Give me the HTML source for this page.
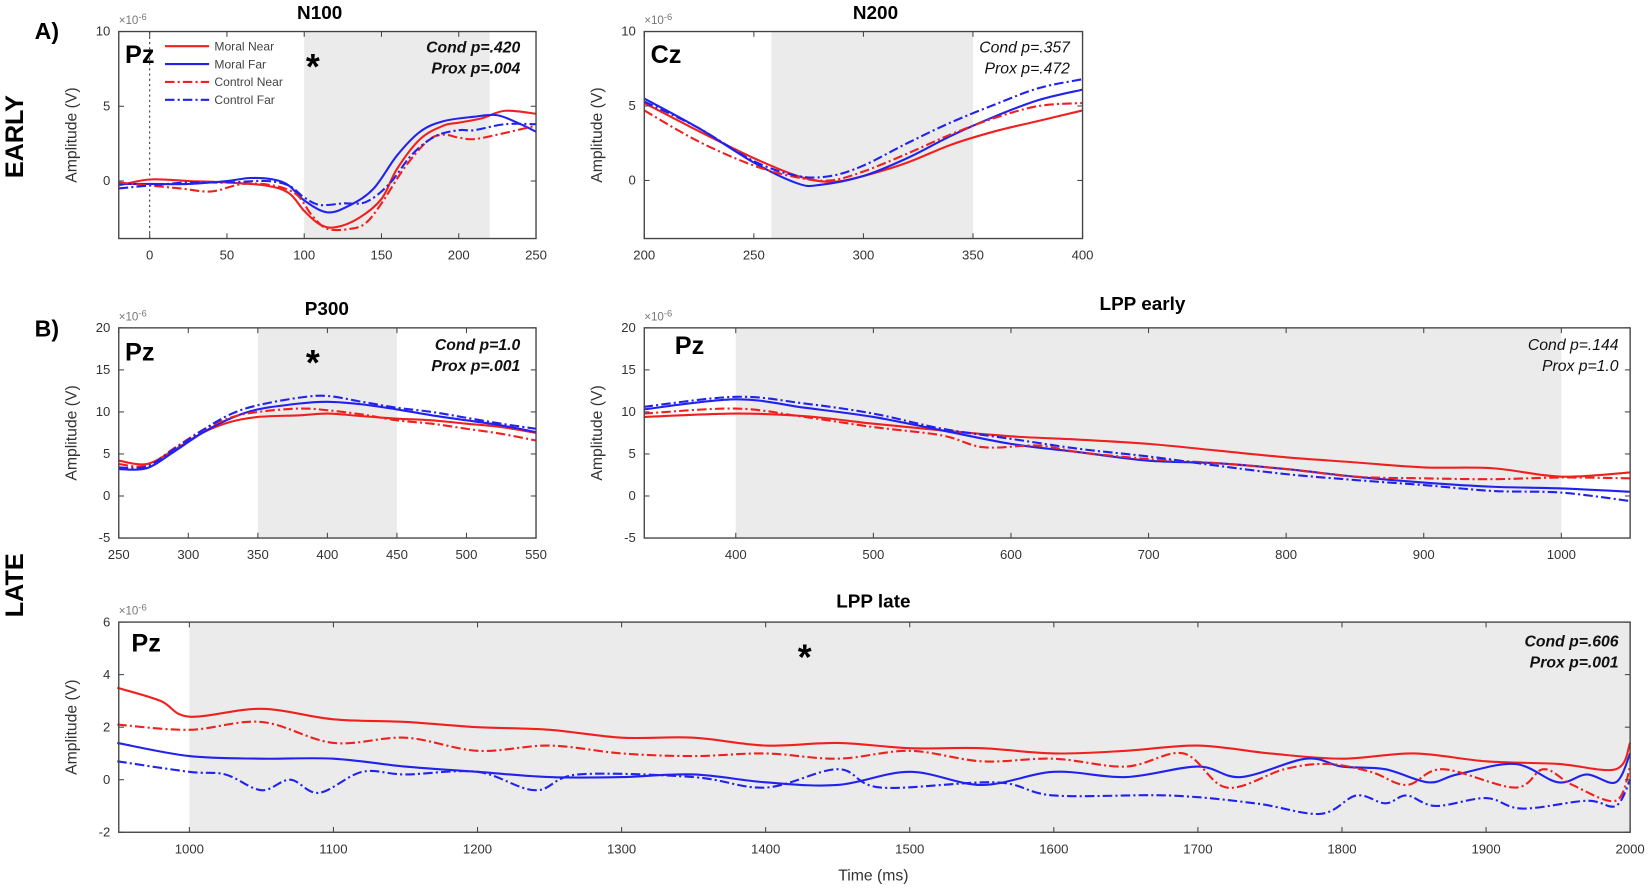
<!DOCTYPE html>
<html><head><meta charset="utf-8"><style>
html,body{margin:0;padding:0;background:#fff;width:1648px;height:889px;overflow:hidden}
svg{display:block}
text{font-family:"Liberation Sans",sans-serif}
</style></head><body>
<svg id="s" width="1648" height="889" viewBox="0 0 1568 846" preserveAspectRatio="none" xmlns="http://www.w3.org/2000/svg"></svg>
<script>
const S=document.getElementById('s');let h='';
const R='#f0201e',B='#2222ee',DD='9,3,2,3';
function ax(o){
 const {x0,x1,y0,y1,xmin,xmax,ymin,ymax}=o;
 const X=v=>x0+(v-xmin)/(xmax-xmin)*(x1-x0), Y=v=>y1-(v-ymin)/(ymax-ymin)*(y1-y0);
 o.X=X;o.Y=Y;
 if(o.sh) h+=`<rect x="${X(o.sh[0])}" y="${y0}" width="${X(o.sh[1])-X(o.sh[0])}" height="${y1-y0}" fill="#ebebeb"/>`;
 return o;
}
function frame(o){
 const {x0,x1,y0,y1,X,Y}=o;
 h+=`<rect x="${x0}" y="${y0}" width="${x1-x0}" height="${y1-y0}" fill="none" stroke="#444" stroke-width="1.3"/>`;
 o.xt.forEach(v=>{const x=X(v);h+=`<line x1="${x}" x2="${x}" y1="${y1}" y2="${y1-5}" stroke="#444"/><line x1="${x}" x2="${x}" y1="${y0}" y2="${y0+5}" stroke="#444"/><text x="${x}" y="${y1+20}" font-size="12.5" fill="#333" text-anchor="middle">${v}</text>`});
 o.yt.forEach(v=>{const y=Y(v);h+=`<line x1="${x0}" x2="${x0+5}" y1="${y}" y2="${y}" stroke="#444"/><line x1="${x1}" x2="${x1-5}" y1="${y}" y2="${y}" stroke="#444"/><text x="${x0-8}" y="${y+4}" font-size="12.5" fill="#333" text-anchor="end">${v}</text>`});
 h+=`<text x="${x0}" y="${y0-7}" font-size="11" fill="#777">×10<tspan dy="-4" font-size="9">-6</tspan></text>`;
 const cy=(y0+y1)/2;
 h+=`<text transform="translate(${x0-40},${cy}) rotate(-90)" font-size="15" fill="#333" text-anchor="middle">Amplitude (V)</text>`;
}
function curve(o,pts,col,dash){
 const P=pts.map(p=>[o.X(p[0]),o.Y(p[1])]);
 let d=`M${P[0][0]},${P[0][1]}`;
 for(let i=0;i<P.length-1;i++){const p0=P[i-1]||P[i],p1=P[i],p2=P[i+1],p3=P[i+2]||p2;
  d+=`C${p1[0]+(p2[0]-p0[0])/6},${p1[1]+(p2[1]-p0[1])/6} ${p2[0]-(p3[0]-p1[0])/6},${p2[1]-(p3[1]-p1[1])/6} ${p2[0]},${p2[1]}`;}
 h+=`<path d="${d}" fill="none" stroke="${col}" stroke-width="2" ${dash?`stroke-dasharray="${DD}"`:''}/>`;
}
function T(x,y,s,sz,opt=''){h+=`<text x="${x}" y="${y}" font-size="${sz}" ${opt}>${s}</text>`}
function stats(x,y,a,b,bold){const w=bold?'font-weight="bold"':'';T(x,y,a,15,`font-style="italic" ${w} text-anchor="end" fill="#111"`);T(x,y+20,b,15,`font-style="italic" ${w} text-anchor="end" fill="#111"`)}
function series(o,d){curve(o,d[0],R);curve(o,d[1],B);curve(o,d[2],R,1);curve(o,d[3],B,1);}

// N100
let a=ax({x0:113,x1:510,y0:30,y1:227,xmin:-20,xmax:250,ymin:-3.85,ymax:10,sh:[100,220]});
h+=`<line x1="${a.X(0)}" x2="${a.X(0)}" y1="30" y2="227" stroke="#333" stroke-dasharray="2,3"/>`;
series(a,[
[[-20,-0.3],[0,0.1],[25,0],[50,-0.1],[75,-0.3],[90,-0.8],[100,-2],[110,-2.9],[120,-3.1],[135,-2.5],[150,-1.2],[160,0.8],[175,2.8],[190,3.7],[200,3.9],[215,4.2],[230,4.7],[250,4.5]],
[[-20,-0.2],[0,-0.2],[25,-0.2],[50,0],[65,0.2],[80,0.1],[90,-0.3],[100,-1.3],[115,-2.1],[130,-1.6],[145,-0.5],[160,1.7],[175,3.3],[190,4],[210,4.3],[225,4.4],[240,3.8],[250,3.3]],
[[-20,-0.1],[0,-0.3],[20,-0.5],[40,-0.7],[60,-0.2],[80,-0.3],[95,-0.9],[105,-2.3],[115,-3.2],[130,-3.2],[140,-2.8],[150,-1.5],[165,0.9],[180,2.7],[190,3.1],[200,2.9],[210,2.8],[225,3.1],[250,3.7]],
[[-20,-0.5],[0,-0.3],[25,-0.1],[50,-0.1],[75,0],[90,-0.3],[100,-1.1],[110,-1.6],[125,-1.5],[140,-1.4],[155,-0.2],[170,1.8],[185,3],[200,3.4],[210,3.4],[230,3.8],[250,3.8]]]);
a.xt=[0,50,100,150,200,250];a.yt=[0,5,10];frame(a);
T(a.X(110),18,'N100',18,'font-weight="bold" text-anchor="middle"');
T(119,60,'Pz',24,'font-weight="bold"');T(291,75,'*',34,'font-weight="bold"');
stats(495,50,'Cond p=.420','Prox p=.004',1);
[['Moral Near',R,0],['Moral Far',B,0],['Control Near',R,1],['Control Far',B,1]].forEach((l,i)=>{const y=44+i*17;h+=`<line x1="157" x2="199" y1="${y}" y2="${y}" stroke="${l[1]}" stroke-width="2" ${l[2]?`stroke-dasharray="${DD}"`:''}/>`;T(204,y+4,l[0],11.5,'fill="#444"')});

// N200
a=ax({x0:613,x1:1030,y0:30,y1:227,xmin:200,xmax:400,ymin:-3.9,ymax:10,sh:[258,350]});
series(a,[
[[200,5.2],[225,3.3],[250,1.5],[270,0.3],[285,-0.1],[300,0.3],[320,1.2],[340,2.4],[360,3.3],[380,4],[400,4.7]],
[[200,5.5],[225,3.5],[250,1.2],[270,-0.2],[280,-0.3],[300,0.3],[320,1.5],[340,3],[360,4.3],[380,5.4],[400,6.1]],
[[200,4.7],[225,2.6],[250,1],[270,0.2],[285,0],[300,0.6],[320,1.8],[340,3.1],[360,4.2],[380,5],[400,5.2]],
[[200,5.3],[225,3.5],[250,1.3],[270,0.3],[285,0.3],[300,1],[320,2.5],[340,3.9],[360,5.1],[380,6.2],[400,6.8]]]);
a.xt=[200,250,300,350,400];a.yt=[0,5,10];frame(a);
T(833,18,'N200',18,'font-weight="bold" text-anchor="middle"');
T(619,60,'Cz',24,'font-weight="bold"');stats(1018,50,'Cond p=.357','Prox p=.472',0);

// P300
a=ax({x0:113,x1:510,y0:312,y1:512,xmin:250,xmax:550,ymin:-5,ymax:20,sh:[350,450]});
series(a,[
[[250,4.2],[270,3.8],[290,5.5],[310,7.5],[330,8.8],[350,9.4],[380,9.6],[400,9.8],[425,9.5],[450,9.2],[475,9],[500,8.6],[525,8.2],[550,7.5]],
[[250,3.2],[270,3.3],[290,5.3],[310,7.5],[330,9.2],[350,10.3],[380,11],[400,11.2],[425,10.9],[450,10.3],[475,9.6],[500,9],[525,8.4],[550,7.6]],
[[250,3.8],[270,3.6],[290,5.7],[310,7.8],[330,9.3],[350,10],[380,10.4],[400,10.2],[425,9.7],[450,9],[475,8.6],[500,8],[525,7.4],[550,6.6]],
[[250,3.4],[270,3.5],[290,5.6],[310,7.8],[330,9.7],[350,10.8],[380,11.7],[400,11.9],[425,11.2],[450,10.5],[475,10],[500,9.3],[525,8.6],[550,8]]]);
a.xt=[250,300,350,400,450,500,550];a.yt=[-5,0,5,10,15,20];frame(a);
T(311,300,'P300',18,'font-weight="bold" text-anchor="middle"');
T(119,343,'Pz',24,'font-weight="bold"');T(291,357,'*',34,'font-weight="bold"');
stats(495,333,'Cond p=1.0','Prox p=.001',1);

// LPP early
a=ax({x0:613,x1:1551,y0:312,y1:512,xmin:333.5,xmax:1050,ymin:-5,ymax:20,sh:[400,1000]});
series(a,[
[[333,9.4],[400,9.8],[450,9.5],[500,8.6],[550,7.8],[600,7.1],[650,6.7],[700,6.2],[750,5.4],[800,4.6],[850,4],[900,3.4],[950,3.3],[1000,2.3],[1050,2.8]],
[[333,10.3],[400,11.5],[450,10.5],[500,9.4],[550,7.8],[600,6.2],[650,5.2],[700,4.2],[750,3.9],[800,3.2],[850,2.3],[900,1.6],[950,1.1],[1000,0.9],[1050,0.5]],
[[333,9.8],[400,10.4],[450,9.4],[500,8.2],[550,7.2],[580,5.8],[620,6],[650,5.2],[700,4.4],[750,3.9],[800,3.2],[850,2.3],[900,2.1],[950,2],[1000,2.2],[1050,2.1]],
[[333,10.6],[400,11.8],[450,11],[500,9.8],[550,8],[600,6.8],[650,5.6],[700,4.7],[750,3.6],[800,2.6],[850,1.9],[900,1.3],[950,0.6],[1000,0.4],[1050,-0.6]]]);
a.xt=[400,500,600,700,800,900,1000];a.yt=[-5,0,5,10,15,20];frame(a);
T(1087,295,'LPP early',18,'font-weight="bold" text-anchor="middle"');
T(642,337,'Pz',24,'font-weight="bold"');stats(1540,333,'Cond p=.144','Prox p=1.0',0);

// LPP late
a=ax({x0:113,x1:1551,y0:592,y1:792,xmin:951,xmax:2000,ymin:-2,ymax:6,sh:[1000,2000]});
series(a,[
[[950,3.5],[980,3],[1000,2.4],[1050,2.7],[1100,2.3],[1150,2.2],[1200,2],[1250,1.9],[1300,1.6],[1350,1.6],[1400,1.3],[1450,1.4],[1500,1.2],[1550,1.2],[1600,1.0],[1650,1.1],[1700,1.3],[1750,1.0],[1800,0.8],[1850,1.0],[1900,0.7],[1950,0.6],[1990,0.4],[2000,1.4]],
[[950,1.4],[1000,0.9],[1050,0.8],[1100,0.8],[1150,0.5],[1200,0.3],[1250,0.1],[1300,0.1],[1350,0.2],[1400,-0.1],[1450,-0.2],[1500,0.3],[1550,-0.2],[1600,0.3],[1650,0.1],[1700,0.5],[1730,0.1],[1775,0.8],[1800,0.5],[1830,0.4],[1860,-0.1],[1880,0.2],[1920,0.6],[1950,-0.1],[1970,0.2],[1990,-0.1],[2000,1.0]],
[[950,2.1],[1000,1.9],[1050,2.2],[1100,1.4],[1150,1.6],[1200,1.1],[1250,1.3],[1300,1.0],[1350,0.9],[1400,1.0],[1450,0.8],[1500,1.1],[1550,0.7],[1600,0.8],[1650,0.5],[1690,1.0],[1720,-0.3],[1760,0.4],[1790,0.6],[1820,0.3],[1845,-0.2],[1870,0.4],[1920,-0.3],[1940,0.4],[1960,-0.2],[1990,-0.8],[2000,0.5]],
[[950,0.7],[1000,0.3],[1025,0.2],[1050,-0.4],[1070,0.0],[1090,-0.5],[1120,0.3],[1150,0.2],[1200,0.3],[1240,-0.4],[1270,0.2],[1350,0.1],[1400,-0.3],[1450,0.4],[1480,-0.3],[1560,-0.1],[1600,-0.6],[1680,-0.6],[1740,-0.9],[1785,-1.3],[1810,-0.6],[1830,-0.9],[1845,-0.6],[1865,-1.0],[1900,-0.7],[1925,-1.1],[1970,-0.8],[1990,-1.0],[2000,0.0]]]);
a.xt=[1000,1100,1200,1300,1400,1500,1600,1700,1800,1900,2000];a.yt=[-2,0,2,4,6];frame(a);
T(831,578,'LPP late',18,'font-weight="bold" text-anchor="middle"');
T(125,620,'Pz',24,'font-weight="bold"');T(759,637,'*',34,'font-weight="bold"');
stats(1540,615,'Cond p=.606','Prox p=.001',1);
T(831,838,'Time (ms)',15,'fill="#333" text-anchor="middle"');

T(33,37,'A)',22,'font-weight="bold"');T(33,320,'B)',22,'font-weight="bold"');
h+=`<text transform="translate(22,130) rotate(-90)" font-size="24" font-weight="bold" text-anchor="middle">EARLY</text>`;
h+=`<text transform="translate(22,557) rotate(-90)" font-size="24" font-weight="bold" text-anchor="middle">LATE</text>`;
S.innerHTML=h;
</script>
</body></html>
